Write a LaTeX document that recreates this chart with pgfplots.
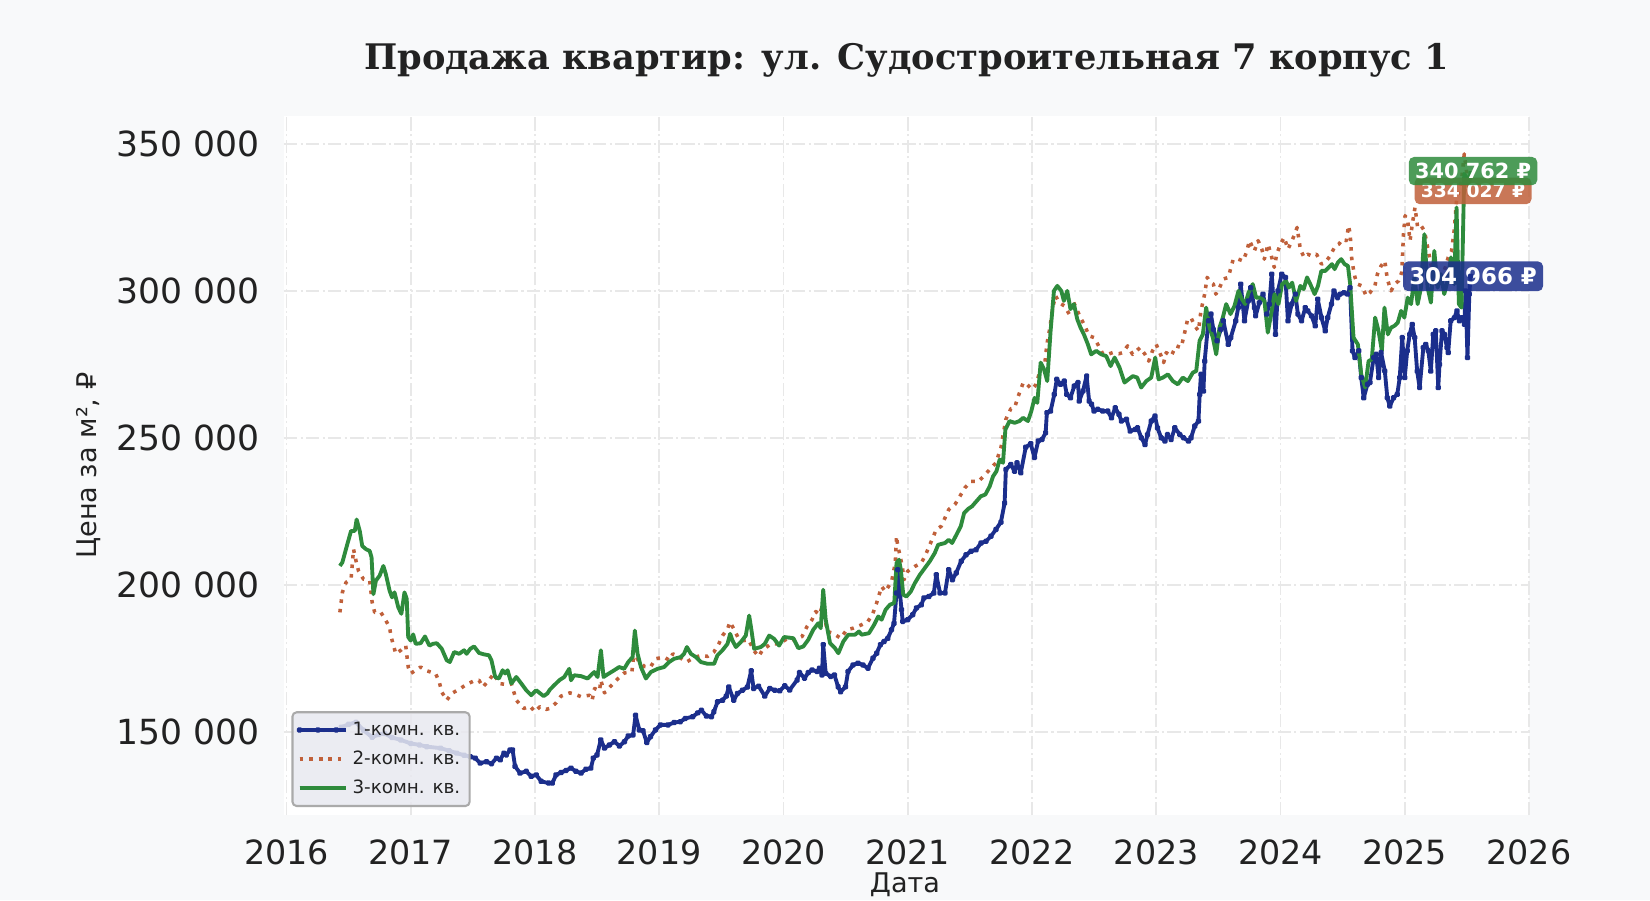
\documentclass[border=0pt]{standalone}
\usepackage{fontspec}
\setmainfont{DejaVu Sans}
\newfontfamily\titlefont{DejaVu Serif}
\usepackage{pgfplots}
\pgfplotsset{compat=1.18}

\definecolor{bgC}{RGB}{248,249,250}
\definecolor{navyC}{RGB}{27,46,140}
\definecolor{orangeC}{RGB}{192,96,58}
\definecolor{greenC}{RGB}{46,139,60}
\definecolor{gridC}{RGB}{232,232,232}
\definecolor{txtC}{RGB}{34,34,34}
\definecolor{legDraw}{RGB}{170,170,170}
\definecolor{legFill}{RGB}{232,233,240}

\begin{document}
\begin{tikzpicture}
\path[use as bounding box, fill=bgC] (0,0) rectangle (792pt,432pt);
\clip (0,0) rectangle (792pt,432pt);

\begin{axis}[
  at={(136.3pt,40.6pt)}, anchor=south west,
  width=597.6pt, height=335.7pt, scale only axis,
  xmin=2015.98, xmax=2026.0,
  ymin=121500, ymax=359500,
  scaled y ticks=false, scaled x ticks=false,
  axis line style={draw=none},
  axis background/.style={fill=white},
  major tick length=0pt,
  xtick={2016,2017,2018,2019,2020,2021,2022,2023,2024,2025,2026},
  xticklabels={2016,2017,2018,2019,2020,2021,2022,2023,2024,2025,2026},
  ytick={150000,200000,250000,300000,350000},
  yticklabels={150 000,200 000,250 000,300 000,350 000},
  xticklabel style={font=\fontsize{16}{19}\selectfont, text=txtC, yshift=-8pt},
  yticklabel style={font=\fontsize{16.6}{19}\selectfont, text=txtC, xshift=-8pt},
  grid=major,
  major grid style={gridC, line width=0.8pt, dash pattern=on 6.4pt off 1.6pt on 1pt off 1.6pt},
  clip=false,
  legend style={at={(0.006,0.012)}, anchor=south west,
    draw=legDraw, line width=1pt,
    fill=legFill, fill opacity=0.85, draw opacity=1, text opacity=1,
    rounded corners=2pt, font=\fontsize{8.8}{10.5}\selectfont, text=txtC,
    inner sep=2.5pt, row sep=2pt, cells={anchor=west}},
  legend image code/.code={\draw[#1] plot coordinates {(0pt,0pt) (8.8pt,0pt) (17.6pt,0pt)};
    \path (0pt,0pt) -- (22.5pt,0pt);},
]

\addplot[navyC, line width=1.85pt, line join=round, mark=*, mark size=0.6pt, mark options={solid}] table {
2016.44 151500
2016.50 152500
2016.56 153200
2016.62 150500
2016.69 148100
2016.74 149000
2016.79 149400
2016.85 148000
2016.92 147200
2017.00 146000
2017.07 145500
2017.13 144900
2017.24 144400
2017.31 143500
2017.37 142700
2017.43 142000
2017.48 141500
2017.52 141000
2017.56 139300
2017.61 139800
2017.65 139100
2017.69 141000
2017.72 140400
2017.75 142700
2017.77 142100
2017.80 143800
2017.82 143800
2017.84 138200
2017.88 135900
2017.93 136500
2017.97 134800
2018.01 135300
2018.05 133100
2018.11 132500
2018.14 132500
2018.17 135300
2018.21 136100
2018.25 136800
2018.29 137600
2018.33 136500
2018.37 135900
2018.41 137200
2018.45 137600
2018.47 141000
2018.50 142100
2018.53 147200
2018.56 144400
2018.60 145500
2018.64 146600
2018.68 145100
2018.72 146600
2018.75 148500
2018.79 148900
2018.81 155600
2018.84 150600
2018.87 150300
2018.90 146300
2018.93 148300
2018.97 150600
2019.01 152300
2019.07 152300
2019.12 153100
2019.17 153400
2019.21 154500
2019.27 155100
2019.31 156400
2019.34 157300
2019.38 155300
2019.42 155100
2019.44 156800
2019.47 160200
2019.51 160700
2019.54 162100
2019.56 165200
2019.60 160700
2019.63 163000
2019.67 164100
2019.71 165200
2019.74 170700
2019.76 164700
2019.80 165500
2019.85 162100
2019.89 164700
2019.93 164100
2019.97 163900
2020.01 165600
2020.05 164200
2020.11 167600
2020.13 170100
2020.17 168200
2020.20 170100
2020.23 171000
2020.27 170500
2020.29 171600
2020.31 169300
2020.32 179600
2020.34 169900
2020.38 168800
2020.41 169300
2020.44 165300
2020.46 163600
2020.50 165300
2020.52 170500
2020.56 172700
2020.60 173300
2020.64 172700
2020.68 171600
2020.72 175000
2020.75 176700
2020.78 179600
2020.81 180700
2020.84 181800
2020.87 184700
2020.89 186900
2020.91 197200
2020.92 205100
2020.95 191500
2020.96 187500
2021.00 188100
2021.04 189800
2021.07 192100
2021.11 193200
2021.13 195500
2021.17 196000
2021.21 197200
2021.23 203400
2021.26 197200
2021.30 197200
2021.33 205100
2021.36 201700
2021.39 204000
2021.43 208000
2021.47 210200
2021.51 211400
2021.55 211900
2021.59 214200
2021.63 214800
2021.67 216500
2021.71 218800
2021.75 221300
2021.78 227800
2021.79 239200
2021.83 240900
2021.86 238600
2021.88 241500
2021.91 238100
2021.95 246800
2021.99 248000
2022.02 243300
2022.05 248900
2022.08 249400
2022.11 251700
2022.12 258500
2022.15 259100
2022.18 264800
2022.20 269900
2022.23 268200
2022.26 269300
2022.28 264800
2022.31 263600
2022.34 267600
2022.37 268800
2022.38 262500
2022.41 265900
2022.44 271000
2022.46 262500
2022.48 261400
2022.50 259100
2022.53 259700
2022.57 259100
2022.61 259100
2022.64 256800
2022.67 260200
2022.70 258000
2022.72 255700
2022.76 256300
2022.79 252300
2022.83 252800
2022.85 253400
2022.88 250000
2022.91 247700
2022.93 251100
2022.96 255700
2022.99 257400
2023.01 253400
2023.04 250000
2023.07 248900
2023.09 251100
2023.12 249400
2023.15 253400
2023.19 251100
2023.22 250000
2023.26 248900
2023.28 250000
2023.31 254000
2023.34 255700
2023.35 264800
2023.36 271600
2023.38 265900
2023.39 276100
2023.42 289800
2023.44 292100
2023.46 286900
2023.49 283000
2023.52 286900
2023.54 289800
2023.58 281800
2023.60 284100
2023.64 289800
2023.66 294300
2023.68 302300
2023.71 289800
2023.74 296600
2023.76 301100
2023.79 294300
2023.80 291500
2023.83 296000
2023.86 298900
2023.89 292100
2023.91 295500
2023.93 305700
2023.96 285200
2023.98 300000
2024.01 305700
2024.04 304600
2024.06 289800
2024.09 295500
2024.12 298900
2024.14 292100
2024.17 289800
2024.20 294300
2024.22 293200
2024.25 291500
2024.28 288100
2024.30 297200
2024.33 290900
2024.36 286400
2024.38 290900
2024.41 295500
2024.43 300000
2024.46 297700
2024.48 298900
2024.51 299400
2024.54 298900
2024.56 301100
2024.58 279600
2024.60 277300
2024.63 279600
2024.65 270500
2024.67 263600
2024.70 268200
2024.72 268800
2024.75 277300
2024.77 278400
2024.79 270500
2024.81 279000
2024.84 272700
2024.86 263600
2024.88 260800
2024.91 263600
2024.94 264800
2024.96 270500
2024.98 284100
2025.00 270500
2025.02 279600
2025.04 285200
2025.06 288600
2025.08 284100
2025.10 272700
2025.12 267100
2025.15 280700
2025.17 281800
2025.19 279600
2025.21 272700
2025.23 285200
2025.25 286400
2025.27 267100
2025.28 275000
2025.30 286400
2025.32 285200
2025.34 280700
2025.35 279000
2025.37 289800
2025.40 290900
2025.42 293200
2025.44 289800
2025.46 290900
2025.48 288600
2025.49 300000
2025.505 277300
2025.52 298900
2025.53 304966
};
\addlegendentry{1-комн. кв.}

\addplot[orangeC, line width=1.7pt, line join=round, dash pattern=on 1.7pt off 2.9pt] table {
2016.43 190600
2016.45 197400
2016.48 200800
2016.52 201900
2016.54 212100
2016.56 208100
2016.58 204700
2016.62 201900
2016.67 201400
2016.69 194000
2016.71 190600
2016.76 190600
2016.80 187800
2016.83 185600
2016.84 182700
2016.88 176500
2016.92 177700
2016.96 179300
2016.98 172000
2017.00 169800
2017.04 170900
2017.08 172000
2017.13 170700
2017.20 169800
2017.23 166900
2017.25 163500
2017.29 160700
2017.33 163000
2017.40 164700
2017.45 166100
2017.51 167300
2017.55 167500
2017.58 165200
2017.63 167500
2017.67 169800
2017.71 166400
2017.76 166100
2017.81 166400
2017.85 160700
2017.91 157900
2017.96 158700
2018.00 156800
2018.04 158500
2018.09 157600
2018.12 157900
2018.17 159800
2018.21 162100
2018.28 163200
2018.32 162800
2018.37 161900
2018.44 162400
2018.46 160700
2018.48 164700
2018.52 163900
2018.53 167500
2018.56 163200
2018.61 165500
2018.67 168100
2018.72 170000
2018.78 170300
2018.80 177700
2018.83 174300
2018.88 172200
2018.93 172000
2018.97 174800
2019.04 175400
2019.08 174300
2019.11 176500
2019.16 175400
2019.22 173700
2019.28 175200
2019.34 176000
2019.39 175600
2019.44 177100
2019.48 179900
2019.51 182700
2019.55 185000
2019.57 187300
2019.60 185000
2019.64 181600
2019.68 181000
2019.72 181300
2019.76 177700
2019.80 175600
2019.83 177700
2019.90 179900
2019.97 179900
2020.03 181700
2020.09 181200
2020.15 182400
2020.19 185800
2020.23 188100
2020.26 190900
2020.29 189800
2020.32 193800
2020.35 184100
2020.40 183500
2020.46 181800
2020.51 184700
2020.56 185200
2020.63 186400
2020.68 187500
2020.72 190300
2020.75 193800
2020.79 199400
2020.82 197700
2020.87 201100
2020.90 207400
2020.91 216500
2020.92 213100
2020.94 209700
2020.96 205100
2020.97 201700
2021.00 204600
2021.06 206300
2021.11 207400
2021.15 210800
2021.19 214800
2021.23 218800
2021.27 219900
2021.33 225600
2021.38 227300
2021.42 230100
2021.46 233000
2021.51 235200
2021.57 235200
2021.61 236900
2021.66 239200
2021.71 241500
2021.75 246600
2021.79 256300
2021.83 259900
2021.86 260200
2021.89 264200
2021.93 268800
2021.96 268200
2022.00 266500
2022.03 268000
2022.07 273300
2022.10 274000
2022.12 281800
2022.14 286400
2022.17 294900
2022.19 298300
2022.22 296000
2022.26 294900
2022.30 292100
2022.33 296600
2022.36 293800
2022.39 290900
2022.42 288600
2022.46 284700
2022.50 284100
2022.53 281800
2022.57 278600
2022.61 278400
2022.65 279000
2022.70 278600
2022.73 279000
2022.77 281300
2022.81 278400
2022.87 280700
2022.91 278400
2022.94 276100
2022.97 279600
2023.00 281800
2023.04 277800
2023.06 275600
2023.08 279000
2023.12 277800
2023.16 281300
2023.20 280700
2023.22 284100
2023.25 289800
2023.28 290900
2023.31 288100
2023.34 286400
2023.36 293200
2023.39 298900
2023.41 304600
2023.44 302800
2023.46 302300
2023.48 298900
2023.51 301100
2023.54 304000
2023.58 304600
2023.62 310800
2023.66 310800
2023.70 310200
2023.73 313600
2023.75 317100
2023.79 313600
2023.82 317100
2023.85 314200
2023.87 310800
2023.90 315900
2023.93 311400
2023.95 308000
2023.97 312500
2024.00 315900
2024.03 318200
2024.06 314200
2024.08 315900
2024.115 319300
2024.134 321600
2024.16 314200
2024.19 311400
2024.22 312500
2024.25 311900
2024.29 312500
2024.33 309100
2024.36 309700
2024.40 311900
2024.44 315300
2024.47 315900
2024.50 317600
2024.53 317100
2024.548 322200
2024.561 319300
2024.575 310200
2024.60 304600
2024.62 302300
2024.655 301700
2024.69 298300
2024.72 299400
2024.76 301700
2024.78 305700
2024.81 308500
2024.84 310200
2024.86 304000
2024.89 300000
2024.92 302300
2024.95 303400
2024.976 306300
2024.99 319300
2025.003 325600
2025.024 323900
2025.043 317100
2025.061 322700
2025.083 328400
2025.104 321600
2025.131 322200
2025.158 320500
2025.19 313600
2025.222 306800
2025.249 302300
2025.283 304600
2025.318 306800
2025.35 311400
2025.377 313600
2025.398 320500
2025.417 330700
2025.436 334100
2025.457 337500
2025.479 346600
2025.497 340900
2025.516 331800
2025.53 334027
};
\addlegendentry{2-комн. кв.}

\addplot[greenC, line width=1.85pt, line join=round] table {
2016.43 206400
2016.45 207600
2016.49 213800
2016.52 218300
2016.55 218300
2016.565 222200
2016.59 218300
2016.61 213200
2016.64 212100
2016.67 211500
2016.685 209300
2016.70 196800
2016.72 201400
2016.75 203100
2016.78 206400
2016.80 203600
2016.83 198000
2016.85 195700
2016.87 197400
2016.90 192300
2016.925 190100
2016.95 197400
2016.968 195200
2016.98 182200
2017.00 181000
2017.02 183100
2017.04 179900
2017.08 180100
2017.115 182400
2017.15 179300
2017.18 179900
2017.21 180100
2017.25 178200
2017.29 174300
2017.315 173700
2017.35 177100
2017.39 176500
2017.43 177700
2017.45 176500
2017.48 178200
2017.51 179000
2017.55 176800
2017.59 176300
2017.63 176000
2017.65 174300
2017.68 168600
2017.71 168100
2017.74 170900
2017.76 169800
2017.78 170900
2017.81 166400
2017.85 168600
2017.89 166400
2017.93 164100
2017.97 162400
2018.01 164100
2018.07 162100
2018.10 163000
2018.12 164300
2018.155 165800
2018.196 167500
2018.236 168600
2018.276 171400
2018.29 167500
2018.316 169200
2018.37 168900
2018.424 168100
2018.477 170300
2018.504 168600
2018.531 177700
2018.552 168600
2018.584 169500
2018.638 170900
2018.678 172000
2018.718 171400
2018.751 173700
2018.786 175400
2018.804 184400
2018.826 176500
2018.853 172000
2018.893 168100
2018.933 170300
2018.987 171400
2019.04 172000
2019.08 173700
2019.12 174800
2019.174 175400
2019.20 176500
2019.223 178800
2019.255 176500
2019.295 175400
2019.335 173700
2019.389 173100
2019.442 173100
2019.469 176000
2019.509 177700
2019.55 179900
2019.571 183300
2019.59 181000
2019.617 178800
2019.657 180500
2019.697 182700
2019.724 189500
2019.743 184400
2019.764 178200
2019.818 178800
2019.85 179900
2019.885 182700
2019.925 181600
2019.965 179300
2020.005 182200
2020.046 182000
2020.08 181800
2020.12 178400
2020.16 179000
2020.20 181300
2020.24 184700
2020.28 186900
2020.30 185200
2020.32 198300
2020.34 188100
2020.375 180100
2020.415 178400
2020.442 176700
2020.482 180700
2020.522 183000
2020.576 183000
2020.608 184100
2020.629 183000
2020.688 183500
2020.73 186400
2020.763 189200
2020.79 188100
2020.822 191500
2020.857 193200
2020.892 193800
2020.91 207400
2020.93 208500
2020.945 205100
2020.964 196600
2020.99 196000
2021.025 197700
2021.058 200600
2021.098 203400
2021.138 205700
2021.178 208000
2021.218 210800
2021.245 213600
2021.30 214200
2021.33 215300
2021.357 214200
2021.392 217000
2021.427 219900
2021.454 224400
2021.486 225800
2021.518 226700
2021.553 228400
2021.588 230100
2021.625 230700
2021.66 233500
2021.687 236900
2021.714 238600
2021.74 242600
2021.767 241500
2021.786 252800
2021.82 255700
2021.86 255100
2021.90 255700
2021.928 256800
2021.968 255700
2021.995 259100
2022.021 263600
2022.043 261900
2022.07 275600
2022.097 273300
2022.123 269300
2022.15 286400
2022.177 300000
2022.204 301700
2022.236 300000
2022.257 296600
2022.284 300000
2022.31 293800
2022.338 295500
2022.365 290300
2022.391 287500
2022.418 285200
2022.45 281800
2022.477 278400
2022.517 279600
2022.558 278400
2022.598 277800
2022.633 274400
2022.665 277300
2022.705 273900
2022.745 268800
2022.777 269900
2022.812 271000
2022.847 270500
2022.879 267100
2022.92 269300
2022.96 270500
2022.992 277300
2023.019 269900
2023.054 270500
2023.094 271600
2023.134 269300
2023.174 268200
2023.214 270500
2023.255 269300
2023.295 272200
2023.322 272700
2023.349 283000
2023.375 285200
2023.402 294300
2023.429 287500
2023.456 284100
2023.483 278400
2023.509 287500
2023.536 290900
2023.563 295500
2023.598 292100
2023.63 294900
2023.662 300000
2023.689 297200
2023.716 295500
2023.743 299400
2023.777 302300
2023.804 297700
2023.839 297700
2023.871 296600
2023.898 285800
2023.925 292100
2023.952 298900
2023.984 295500
2024.013 302300
2024.045 303400
2024.067 301100
2024.094 302800
2024.126 296600
2024.16 301700
2024.187 300600
2024.214 304600
2024.24 302300
2024.275 298900
2024.302 301700
2024.329 306800
2024.361 306800
2024.388 308000
2024.414 309100
2024.436 307400
2024.463 309700
2024.489 310800
2024.516 309100
2024.543 308500
2024.561 302300
2024.588 284100
2024.623 281800
2024.65 271600
2024.682 267100
2024.709 276100
2024.735 276700
2024.762 290900
2024.789 286400
2024.816 279600
2024.837 294300
2024.864 285200
2024.89 287500
2024.917 288100
2024.944 289200
2024.971 293200
2024.997 290900
2025.024 297700
2025.051 295500
2025.078 304600
2025.104 295500
2025.131 301100
2025.158 319300
2025.184 301100
2025.211 296000
2025.238 313600
2025.265 301100
2025.291 305700
2025.318 298900
2025.345 303400
2025.372 311400
2025.398 302300
2025.417 328400
2025.436 295500
2025.457 294300
2025.479 339800
2025.497 338600
2025.516 335200
2025.53 340762
};
\addlegendentry{3-комн. кв.}

\tikzset{lbl/.style={text=white, fill opacity=0.85, text opacity=1, rounded corners=2.5pt, inner xsep=3pt, inner ysep=3pt}}
\node[lbl, fill=orangeC, font=\bfseries\fontsize{9}{10}\selectfont] at (axis cs:2025.55,334027) {334 027 ₽};
\node[lbl, fill=greenC, font=\bfseries\fontsize{10}{11}\selectfont] at (axis cs:2025.55,340762) {340 762 ₽};
\node[lbl, fill=navyC, font=\bfseries\fontsize{11}{12}\selectfont] at (axis cs:2025.55,304966) {304 966 ₽};
\end{axis}

\node[font=\titlefont\bfseries\fontsize{16.9}{20}\selectfont, text=txtC] at (435.2pt,403.2pt) {Продажа квартир: ул. Судостроительная 7 корпус 1};
\node[rotate=90, font=\fontsize{13}{15}\selectfont, text=txtC] at (42.7pt,208.5pt) {Цена за м², ₽};
\node[anchor=base, font=\fontsize{13}{15}\selectfont, text=txtC] at (434.4pt,3.6pt) {Дата};
\end{tikzpicture}
\end{document}
